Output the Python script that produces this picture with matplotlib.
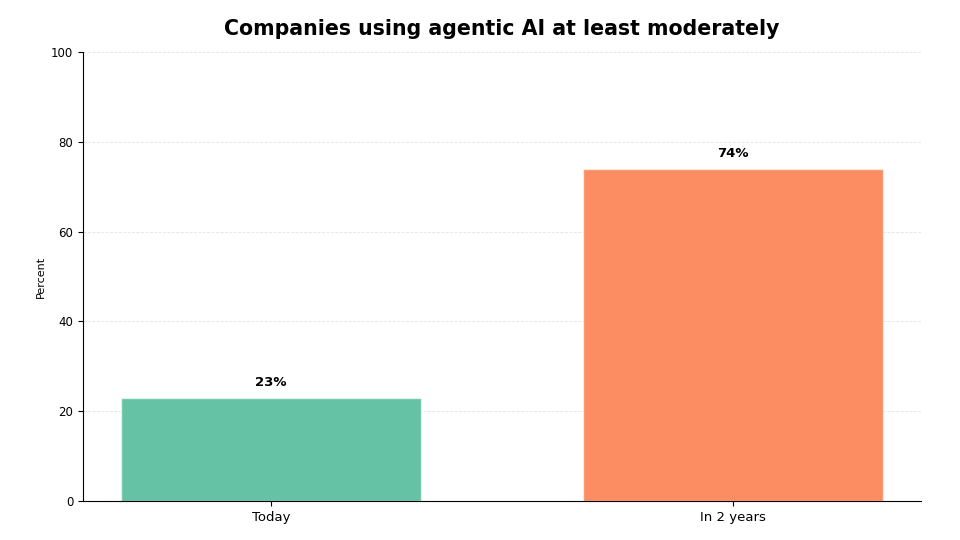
import matplotlib
matplotlib.use("Agg")
import matplotlib.pyplot as plt

categories = ["Today", "In 2 years"]
values = [23, 74]
colours = ["#66c2a5", "#fc8d62"]

fig, ax = plt.subplots(figsize=(9.6, 5.4), dpi=100)
fig.subplots_adjust(left=0.0865, right=0.959, bottom=0.072, top=0.904)

bars = ax.bar(range(len(categories)), values, width=0.65, color=colours,
              edgecolor=(1, 1, 1, 0.6), linewidth=1, zorder=2)

# value labels above each bar
for bar, v in zip(bars, values):
    ax.text(bar.get_x() + bar.get_width() / 2, v + 2, f"{v}%",
            ha="center", va="bottom", fontsize=9.5, fontweight="bold")

ax.set_xticks(range(len(categories)))
ax.set_xticklabels(categories, fontsize=9.5)
ax.set_ylim(0, 100)
ax.set_yticks(range(0, 101, 20))
ax.tick_params(axis="y", labelsize=8.5)
ax.set_ylabel("Percent", fontsize=8)
ax.set_title("Companies using agentic AI at least moderately", fontsize=14.8,
             fontweight="bold", pad=12)

ax.yaxis.grid(True, linestyle="--", color="#e3e3e3", linewidth=0.6, zorder=0)
ax.set_axisbelow(True)
ax.spines["top"].set_visible(False)
ax.spines["right"].set_visible(False)

fig.savefig("out.png", dpi=100)
